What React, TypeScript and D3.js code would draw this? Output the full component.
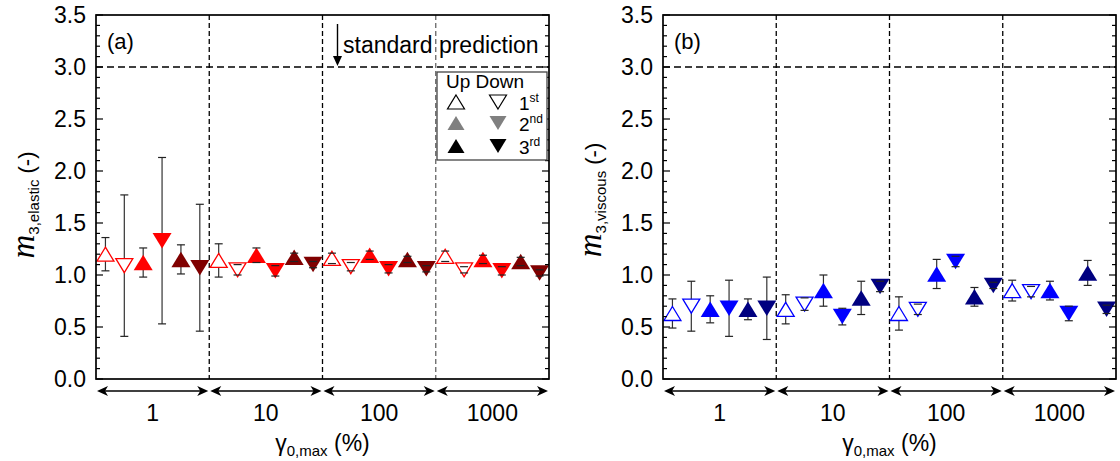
import { useEffect, useRef } from "react";
import * as d3 from "d3";

// strain amplitude groups (γ0,max in %) and the six sweeps inside each group
const groups = ["1", "10", "100", "1000"];
const runs = ["Up 1st", "Down 1st", "Up 2nd", "Down 2nd", "Up 3rd", "Down 3rd"];
const yTicks = [0, 0.5, 1, 1.5, 2, 2.5, 3, 3.5];
const standardPrediction = 3.0;

// m3,elastic : 4 groups x 6 runs
const elasticMean = [
  1.20, 1.09, 1.12, 1.33, 1.15, 1.07,
  1.14, 1.05, 1.19, 1.04, 1.17, 1.10,
  1.16, 1.08, 1.19, 1.06, 1.15, 1.06,
  1.18, 1.05, 1.15, 1.04, 1.13, 1.02,
];
const elasticErr = [
  0.16, 0.68, 0.14, 0.80, 0.14, 0.61,
  0.16, 0.05, 0.07, 0.05, 0.04, 0.03,
  0.05, 0.04, 0.04, 0.04, 0.03, 0.03,
  0.05, 0.03, 0.04, 0.04, 0.04, 0.03,
];

// m3,viscous : 4 groups x 6 runs
const viscousMean = [
  0.63, 0.70, 0.67, 0.68, 0.67, 0.68,
  0.67, 0.72, 0.85, 0.60, 0.78, 0.89,
  0.63, 0.67, 1.01, 1.13, 0.79, 0.90,
  0.85, 0.84, 0.85, 0.63, 1.02, 0.67,
];
const viscousErr = [
  0.14, 0.24, 0.13, 0.27, 0.10, 0.30,
  0.14, 0.06, 0.15, 0.08, 0.16, 0.05,
  0.16, 0.05, 0.14, 0.05, 0.09, 0.03,
  0.10, 0.05, 0.09, 0.07, 0.12, 0.04,
];

const legendRows = ["1", "2", "3"];
const legendSups = ["st", "nd", "rd"];

const FONT = "'Liberation Sans', Arial, sans-serif";
const SERIF = "'Liberation Serif', 'Times New Roman', serif";

export default function App() {
  const svgRef = useRef(null);

  useEffect(() => {
    const svg = d3.select(svgRef.current);
    svg.selectAll("*").remove();

    const top = 15, bottom = 379;
    const y = d3.scaleLinear().domain([0, 3.5]).range([bottom, top]);

    const panels = [
      { x0: 96, x1: 549, tag: "(a)", sub: "3,elastic", mean: elasticMean, err: elasticErr,
        main: "#ff0000", dark: "#800000", titleY: 205, showNote: true },
      { x0: 663, x1: 1116, tag: "(b)", sub: "3,viscous", mean: viscousMean, err: viscousErr,
        main: "#0000ff", dark: "#000080", titleY: 200, showNote: false },
    ];

    // triangle symbol, dir 0 = up, 1 = down
    const tri = (dir, w, h) =>
      dir === 0
        ? `M0,${-h / 2}L${w / 2},${h / 2}L${-w / 2},${h / 2}Z`
        : `M0,${h / 2}L${w / 2},${-h / 2}L${-w / 2},${-h / 2}Z`;

    const arrowHead = (x, yy, d) =>
      `M${x},${yy}L${x - d * 11},${yy - 5}L${x - d * 8},${yy}L${x - d * 11},${yy + 5}Z`;

    panels.forEach(p => {
      const g = svg.append("g");
      const keys = d3.range(groups.length * runs.length).map(String);
      const x = d3.scaleBand().domain(keys).range([p.x0, p.x1]);
      const gx = d3.scaleBand().domain(groups).range([p.x0, p.x1]);
      const cx = i => x(String(i)) + x.bandwidth() / 2;

      // standard prediction line
      g.append("line")
        .attr("x1", p.x0).attr("x2", p.x1)
        .attr("y1", y(standardPrediction)).attr("y2", y(standardPrediction))
        .attr("stroke", "#000").attr("stroke-width", 1.3)
        .attr("stroke-dasharray", "7,4");

      // group dividers
      groups.slice(1).forEach((gr, k) => {
        g.append("line")
          .attr("x1", gx(gr)).attr("x2", gx(gr))
          .attr("y1", top).attr("y2", bottom)
          .attr("stroke", p.showNote && k === 2 ? "#666" : "#000")
          .attr("stroke-width", 1.3)
          .attr("stroke-dasharray", "5,3");
      });

      const pts = p.mean.map((m, i) => {
        const r = i % runs.length;
        return { i, m, e: p.err[i], dir: r % 2, pass: Math.floor(r / 2) };
      });

      // error bar stems
      g.selectAll(".stem").data(pts).enter().append("line")
        .attr("x1", d => cx(d.i)).attr("x2", d => cx(d.i))
        .attr("y1", d => y(d.m + d.e)).attr("y2", d => y(d.m - d.e))
        .attr("stroke", "#333").attr("stroke-width", 1.2);

      // markers
      g.selectAll(".mk").data(pts).enter().append("path")
        .attr("transform", d => `translate(${cx(d.i)},${y(d.m)})`)
        .attr("d", d => d.pass === 0 ? tri(d.dir, 17, 14) : tri(d.dir, 19, 15.5))
        .attr("fill", d => d.pass === 0 ? "#fff" : d.pass === 1 ? p.main : p.dark)
        .attr("stroke", d => d.pass === 0 ? p.main : "none")
        .attr("stroke-width", 1.3);

      // caps
      pts.forEach(d => {
        [d.m + d.e, d.m - d.e].forEach(v => {
          g.append("line")
            .attr("x1", cx(d.i) - 4).attr("x2", cx(d.i) + 4)
            .attr("y1", y(v)).attr("y2", y(v))
            .attr("stroke", "#222").attr("stroke-width", 1.2);
        });
      });

      // frame
      g.append("rect")
        .attr("x", p.x0).attr("y", top)
        .attr("width", p.x1 - p.x0).attr("height", bottom - top)
        .attr("fill", "none").attr("stroke", "#000").attr("stroke-width", 1.7);

      // ticks, inward on left and right
      const minor = d3.range(0, 3.5001, 0.1);
      minor.forEach(v => {
        const isMajor = Math.abs(v * 2 - Math.round(v * 2)) < 1e-6;
        const len = isMajor ? 7 : 4;
        g.append("line").attr("x1", p.x0).attr("x2", p.x0 + len)
          .attr("y1", y(v)).attr("y2", y(v)).attr("stroke", "#000").attr("stroke-width", 1.2);
        g.append("line").attr("x1", p.x1).attr("x2", p.x1 - len)
          .attr("y1", y(v)).attr("y2", y(v)).attr("stroke", "#000").attr("stroke-width", 1.2);
      });

      g.selectAll(".tl").data(yTicks).enter().append("text")
        .attr("x", p.x0 - 10).attr("y", d => y(d))
        .attr("dy", "0.36em")
        .attr("text-anchor", "end")
        .attr("font-family", FONT).attr("font-size", 23)
        .text(d => d3.format(".1f")(d));

      // group arrows under the axis
      const ay = 391;
      groups.forEach(gr => {
        const a = gx(gr) + 1, b = gx(gr) + gx.bandwidth() - 1;
        g.append("line").attr("x1", a + 6).attr("x2", b - 6)
          .attr("y1", ay).attr("y2", ay).attr("stroke", "#000").attr("stroke-width", 1.5);
        g.append("path").attr("d", arrowHead(b, ay, 1)).attr("fill", "#000");
        g.append("path").attr("d", arrowHead(a, ay, -1)).attr("fill", "#000");
        g.append("text")
          .attr("x", gx(gr) + gx.bandwidth() / 2).attr("y", 421)
          .attr("text-anchor", "middle")
          .attr("font-family", FONT).attr("font-size", 23)
          .text(gr);
      });

      // x title
      const xt = g.append("text")
        .attr("x", (p.x0 + p.x1) / 2).attr("y", 451)
        .attr("text-anchor", "middle")
        .attr("font-family", FONT).attr("font-size", 23);
      xt.append("tspan").text("γ");
      xt.append("tspan").attr("font-size", 15).attr("dy", 5).text("0,max");
      xt.append("tspan").attr("dy", -5).text(" (%)");

      // y title
      const yt = g.append("text")
        .attr("transform", `translate(${p.x0 - 62},${p.titleY}) rotate(-90)`)
        .attr("text-anchor", "middle")
        .attr("font-family", FONT).attr("font-size", 22);
      yt.append("tspan").attr("font-family", SERIF).attr("font-style", "italic")
        .attr("font-size", 33).text("m");
      yt.append("tspan").attr("font-size", 15).attr("dy", 5).text(p.sub);
      yt.append("tspan").attr("dy", -5).text(" (-)");

      // panel tag
      g.append("text")
        .attr("x", p.x0 + 11).attr("y", 49)
        .attr("font-family", FONT).attr("font-size", 22)
        .text(p.tag);

      if (p.showNote) {
        const ax = 337.5;
        g.append("line").attr("x1", ax).attr("x2", ax)
          .attr("y1", 24).attr("y2", y(standardPrediction) - 6)
          .attr("stroke", "#000").attr("stroke-width", 1.4);
        g.append("path")
          .attr("d", `M${ax},${y(standardPrediction) - 1}L${ax - 4.5},${y(standardPrediction) - 11}L${ax + 4.5},${y(standardPrediction) - 11}Z`)
          .attr("fill", "#000");
        g.append("text")
          .attr("x", 343).attr("y", 53)
          .attr("font-family", FONT).attr("font-size", 23)
          .text("standard prediction");

        // legend
        const lg = g.append("g");
        lg.append("rect")
          .attr("x", 437).attr("y", 72).attr("width", 110).attr("height", 88)
          .attr("fill", "#fff").attr("stroke", "#444").attr("stroke-width", 1.3);
        lg.append("text")
          .attr("x", 446).attr("y", 88)
          .attr("font-family", FONT).attr("font-size", 19)
          .text("Up Down");
        const rowY = [102, 123, 146];
        const rowFill = ["#fff", "#808080", "#000"];
        legendRows.forEach((r, k) => {
          [0, 1].forEach(dir => {
            lg.append("path")
              .attr("transform", `translate(${dir === 0 ? 456 : 498},${rowY[k]})`)
              .attr("d", tri(dir, 17, 14))
              .attr("fill", rowFill[k])
              .attr("stroke", k === 0 ? "#000" : "none")
              .attr("stroke-width", 1.2);
          });
          const t = lg.append("text")
            .attr("x", 519).attr("y", rowY[k] + 8)
            .attr("font-family", FONT).attr("font-size", 19);
          t.append("tspan").text(r);
          t.append("tspan").attr("font-size", 12).attr("dy", -8).text(legendSups[k]);
        });
      }
    });
  }, []);

  return (
    <svg
      ref={svgRef}
      width={1120}
      height={461}
      style={{ position: "absolute", left: 0, top: 0, background: "#fff" }}
    />
  );
}
